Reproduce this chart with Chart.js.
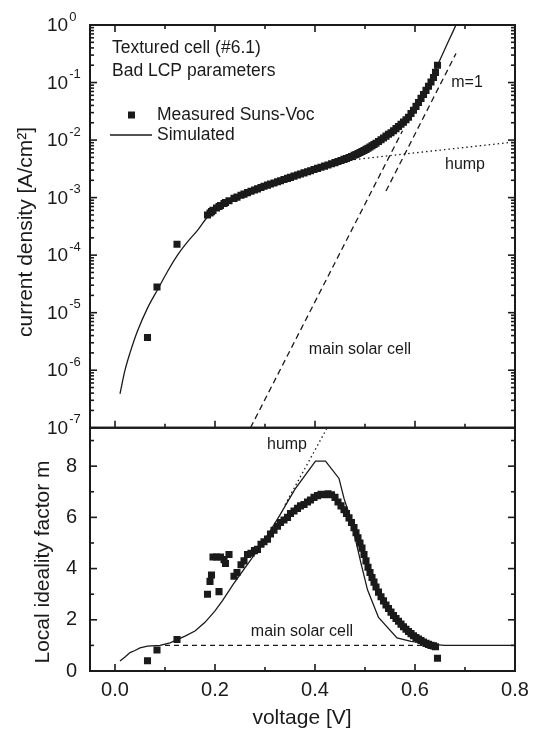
<!DOCTYPE html>
<html>
<head>
<meta charset="utf-8">
<script src="https://cdn.jsdelivr.net/npm/chart.js@4.4.1/dist/chart.umd.min.js"></script>
<style>
  html, body { margin: 0; padding: 0; background: #fff; }
  #wrap { width: 537px; height: 734px; position: relative; }
</style>
</head>
<body>
<div id="wrap"><canvas id="grafica" width="537" height="734"></canvas></div>
<script>
// Measured Suns-Voc points (same voltages in both panels)
const vMeas = [0.065, 0.084, 0.124, 0.185, 0.190, 0.193, 0.196, 0.203, 0.208, 0.211, 0.218, 0.221, 0.228,
    0.238, 0.244, 0.252, 0.258, 0.265, 0.272, 0.279, 0.285, 0.292, 0.298, 0.305, 0.311, 0.318, 0.325,
    0.331, 0.338, 0.345, 0.351, 0.358, 0.365, 0.371, 0.378, 0.385, 0.391, 0.398, 0.405, 0.412, 0.419,
    0.426, 0.433, 0.440, 0.446, 0.452, 0.458, 0.463, 0.468, 0.473, 0.478, 0.482, 0.486, 0.490, 0.494,
    0.498, 0.502, 0.506, 0.510, 0.514, 0.518, 0.522, 0.527, 0.532, 0.537, 0.542, 0.547, 0.552, 0.557,
    0.562, 0.567, 0.572, 0.577, 0.582, 0.587, 0.592, 0.597, 0.602, 0.607, 0.612, 0.617, 0.622, 0.627,
    0.632, 0.637, 0.641, 0.645];
const jMeas = [3.7e-6, 2.8e-5, 1.55e-4, 5.0e-4, 5.4e-4, 5.7e-4, 6.0e-4, 6.6e-4, 7.0e-4, 7.3e-4, 7.9e-4, 8.2e-4, 8.8e-4,
    9.7e-4, 1.02e-3, 1.1e-3, 1.15e-3, 1.22e-3, 1.29e-3, 1.36e-3, 1.42e-3, 1.5e-3, 1.57e-3, 1.65e-3, 1.72e-3, 1.8e-3, 1.89e-3,
    1.97e-3, 2.06e-3, 2.16e-3, 2.25e-3, 2.36e-3, 2.47e-3, 2.57e-3, 2.69e-3, 2.82e-3, 2.94e-3, 3.08e-3, 3.22e-3, 3.37e-3, 3.53e-3,
    3.7e-3, 3.88e-3, 4.06e-3, 4.24e-3, 4.42e-3, 4.62e-3, 4.8e-3, 4.99e-3, 5.2e-3, 5.43e-3, 5.63e-3, 5.85e-3, 6.08e-3, 6.33e-3,
    6.6e-3, 6.9e-3, 7.22e-3, 7.57e-3, 7.95e-3, 8.37e-3, 8.82e-3, 9.45e-3, 1.01e-2, 1.09e-2, 1.17e-2, 1.26e-2, 1.34e-2, 1.45e-2,
    1.58e-2, 1.72e-2, 1.88e-2, 2.05e-2, 2.25e-2, 2.5e-2, 2.9e-2, 3.3e-2, 3.85e-2, 4.5e-2, 5.3e-2, 6.2e-2, 7.3e-2, 8.6e-2,
    0.102, 0.122, 0.15, 0.2];
const mMeas = [0.40, 0.82, 1.23, 3.0, 3.5, 3.75, 4.45, 4.45, 3.1, 4.45, 4.35, 4.2, 4.55,
    3.7, 3.85, 4.15, 4.3, 4.55, 4.6, 4.7, 4.75, 4.95, 5.05, 5.15, 5.35, 5.5, 5.65,
    5.8, 5.9, 6.0, 6.15, 6.25, 6.35, 6.45, 6.5, 6.6, 6.68, 6.78, 6.85, 6.9, 6.88,
    6.92, 6.88, 6.78, 6.6, 6.45, 6.3, 6.15, 5.98, 5.8, 5.6, 5.4, 5.2, 5.0, 4.8,
    4.55, 4.3, 4.05, 3.85, 3.65, 3.47, 3.28, 3.08, 2.9, 2.74, 2.58, 2.44, 2.3, 2.17,
    2.05, 1.94, 1.83, 1.73, 1.63, 1.54, 1.46, 1.38, 1.31, 1.25, 1.19, 1.13, 1.08, 1.04,
    1.0, 0.98, 0.95, 0.5];

// Simulated curves
const vSimJ = [0.010, 0.020, 0.030, 0.045, 0.065, 0.085, 0.105, 0.125, 0.145, 0.165, 0.185, 0.21, 0.25,
    0.30, 0.35, 0.40, 0.45, 0.50, 0.54, 0.57, 0.60, 0.62, 0.645, 0.665, 0.682];
const jSim = [3.9e-7, 1.0e-6, 2.0e-6, 4.8e-6, 1.2e-5, 2.5e-5, 5.2e-5, 1.0e-4, 1.7e-4, 2.7e-4, 4.6e-4, 7.0e-4, 1.1e-3,
    1.6e-3, 2.2e-3, 3.1e-3, 4.3e-3, 6.6e-3, 1.05e-2, 1.8e-2, 3.7e-2, 6.8e-2, 0.2, 0.48, 1.0];
const vSimM = [0.010, 0.020, 0.030, 0.040, 0.050, 0.065, 0.090, 0.110, 0.140, 0.160, 0.180, 0.200, 0.215,
    0.237, 0.270, 0.290, 0.310, 0.330, 0.360, 0.401, 0.421, 0.448, 0.458, 0.472, 0.492, 0.505, 0.527,
    0.564, 0.592, 0.619, 0.640, 0.660, 0.800];
const mSim = [0.39, 0.55, 0.72, 0.80, 0.90, 0.97, 1.0, 1.1, 1.36, 1.56, 1.9, 2.35, 2.75,
    3.4, 4.3, 4.85, 5.45, 6.1, 7.1, 8.2, 8.2, 7.52, 6.74, 5.9, 4.2, 3.17, 2.09,
    1.29, 1.16, 1.09, 1.03, 1.0, 1.0];

// Asymptotes
const vMainJ = [0.271, 0.575];
const jMainJ = [1e-7, 1.45e-2];
const vM1 = [0.542, 0.682];
const jM1 = [1.3e-3, 0.32];
const vHumpJ = [0.47, 0.80];
const jHumpJ = [4.5e-3, 9.3e-3];
const vMainM = [0.10, 0.64];
const mMainM = [1.0, 1.0];
const vHumpM = [0.34, 0.423];
const mHumpM = [6.49, 9.45];

// Ticks
const decadeExps = [0, -1, -2, -3, -4, -5, -6, -7];
const mMajor = [0, 2, 4, 6, 8];
const mMinor = [1, 3, 5, 7, 9];
const vMajor = [0.0, 0.2, 0.4, 0.6, 0.8];
const vMinor = [0.1, 0.3, 0.5, 0.7];

const FUENTE = '"Liberation Sans", Arial, Helvetica, sans-serif';
const TINTA = '#1a1a1a';

const pares = (xs, ys) => xs.map((x, i) => ({ x: x, y: ys[i] }));

const marcoPlugin = {
    id: 'marco',
    afterDatasetsDraw(chart) {
        const ctx = chart.ctx;
        const xs = chart.scales.x;
        const yt = chart.scales.yTop;
        const yb = chart.scales.yBot;
        const L = chart.chartArea.left;
        const R = chart.chartArea.right;

        ctx.save();
        ctx.strokeStyle = TINTA;
        ctx.fillStyle = TINTA;

        const raya = (x1, y1, x2, y2) => {
            ctx.beginPath();
            ctx.moveTo(x1, y1);
            ctx.lineTo(x2, y2);
            ctx.stroke();
        };

        // ticks hacia dentro
        ctx.lineWidth = 1.6;
        vMajor.concat(vMinor).forEach((v) => {
            const len = vMajor.includes(v) ? 7 : 4;
            const px = xs.getPixelForValue(v);
            raya(px, yt.top, px, yt.top + len);
            raya(px, yt.bottom, px, yt.bottom - len);
            raya(px, yb.bottom, px, yb.bottom - len);
        });
        decadeExps.forEach((e) => {
            const base = Math.pow(10, e);
            const py = yt.getPixelForValue(base);
            raya(L, py, L + 7, py);
            raya(R, py, R - 7, py);
            if (e === -7) return;
            for (let k = 2; k <= 9; k++) {
                const pm = yt.getPixelForValue(k * base / 10);
                if (pm > yt.bottom) continue;
                raya(L, pm, L + 4, pm);
                raya(R, pm, R - 4, pm);
            }
        });
        mMajor.concat(mMinor).forEach((m) => {
            const len = mMajor.includes(m) ? 7 : 4;
            const py = yb.getPixelForValue(m);
            raya(L, py, L + len, py);
            raya(R, py, R - len, py);
        });

        ctx.lineWidth = 2;
        ctx.strokeRect(L, yt.top, R - L, yt.bottom - yt.top);
        ctx.strokeRect(L, yb.top, R - L, yb.bottom - yb.top);

        // etiquetas 10^n
        ctx.textBaseline = 'middle';
        ctx.textAlign = 'left';
        decadeExps.forEach((e) => {
            const py = yt.getPixelForValue(Math.pow(10, e));
            ctx.font = '19px ' + FUENTE;
            ctx.fillText('10', 47, py + 1);
            const w = ctx.measureText('10').width;
            ctx.font = '13px ' + FUENTE;
            ctx.fillText(e === 0 ? '0' : '-' + Math.abs(e), 47 + w + 1, py - 8);
        });

        // titulos de ejes
        ctx.font = '21px ' + FUENTE;
        ctx.textAlign = 'center';
        ctx.save();
        ctx.translate(26, 232);
        ctx.rotate(-Math.PI / 2);
        ctx.fillText('current density [A/cm²]', 0, 0);
        ctx.restore();
        ctx.save();
        ctx.translate(43, 562);
        ctx.rotate(-Math.PI / 2);
        ctx.fillText('Local ideality factor m', 0, 0);
        ctx.restore();
        ctx.fillText('voltage [V]', 302, 718);

        // anotaciones
        ctx.font = '16px ' + FUENTE;
        ctx.fillText('m=1', 467, 83);
        ctx.fillText('hump', 465, 165);
        ctx.fillText('main solar cell', 360, 350);
        ctx.fillText('hump', 287, 445);
        ctx.fillText('main solar cell', 302, 632);

        // leyenda
        ctx.textAlign = 'left';
        ctx.font = '17.5px ' + FUENTE;
        ctx.fillText('Textured cell (#6.1)', 112, 48);
        ctx.fillText('Bad LCP parameters', 112, 71);
        ctx.fillText('Measured Suns-Voc', 157, 115);
        ctx.fillText('Simulated', 157, 135);
        ctx.fillRect(128, 111.5, 7, 7);
        ctx.lineWidth = 1.3;
        raya(110, 135, 152, 135);

        ctx.restore();
    }
};

const linea = (datos, eje, extra) => Object.assign({
    data: datos,
    yAxisID: eje,
    showLine: true,
    pointRadius: 0,
    borderColor: TINTA,
    borderWidth: 1.3,
    fill: false,
}, extra);

const puntos = (datos, eje) => ({
    data: datos,
    yAxisID: eje,
    showLine: false,
    pointStyle: 'rect',
    pointRadius: 5,
    pointHoverRadius: 5,
    backgroundColor: TINTA,
    borderColor: TINTA,
    borderWidth: 0,
});

new Chart(document.getElementById('grafica').getContext('2d'), {
    type: 'scatter',
    data: {
        datasets: [
            puntos(pares(vMeas, jMeas), 'yTop'),
            linea(pares(vSimJ, jSim), 'yTop', { cubicInterpolationMode: 'monotone' }),
            linea(pares(vMainJ, jMainJ), 'yTop', { borderDash: [6, 4] }),
            linea(pares(vM1, jM1), 'yTop', { borderDash: [6, 4] }),
            linea(pares(vHumpJ, jHumpJ), 'yTop', { borderDash: [1.5, 3] }),
            puntos(pares(vMeas, mMeas), 'yBot'),
            linea(pares(vSimM, mSim), 'yBot', { tension: 0 }),
            linea(pares(vMainM, mMainM), 'yBot', { borderDash: [5, 4] }),
            linea(pares(vHumpM, mHumpM), 'yBot', { borderDash: [1.5, 3] }),
        ],
    },
    options: {
        responsive: false,
        animation: false,
        devicePixelRatio: 1,
        layout: { padding: { top: 23, right: 22, left: 0, bottom: 0 } },
        plugins: {
            legend: { display: false },
            tooltip: { enabled: false },
        },
        scales: {
            x: {
                type: 'linear',
                min: -0.05,
                max: 0.8,
                position: 'bottom',
                grid: { display: false, drawTicks: false },
                border: { display: false },
                ticks: {
                    stepSize: 0.2,
                    includeBounds: false,
                    color: TINTA,
                    padding: 7,
                    font: { family: FUENTE, size: 20 },
                    callback: (v) => v.toFixed(1),
                },
                afterFit: (s) => { s.height = 63; },
            },
            // el eje que se declara primero queda abajo en la pila
            yBot: {
                type: 'linear',
                min: 0,
                max: 9.5,
                position: 'left',
                stack: 'paneles',
                stackWeight: 244,
                grid: { display: false, drawTicks: false },
                border: { display: false },
                ticks: {
                    stepSize: 2,
                    includeBounds: false,
                    color: TINTA,
                    padding: 13,
                    font: { family: FUENTE, size: 20 },
                },
                afterFit: (s) => { s.width = 90; },
            },
            yTop: {
                type: 'logarithmic',
                min: 1e-7,
                max: 1,
                position: 'left',
                stack: 'paneles',
                stackWeight: 404,
                grid: { display: false, drawTicks: false },
                border: { display: false },
                ticks: { display: false },
                afterFit: (s) => { s.width = 90; },
            },
        },
    },
    plugins: [marcoPlugin],
});
</script>
</body>
</html>
